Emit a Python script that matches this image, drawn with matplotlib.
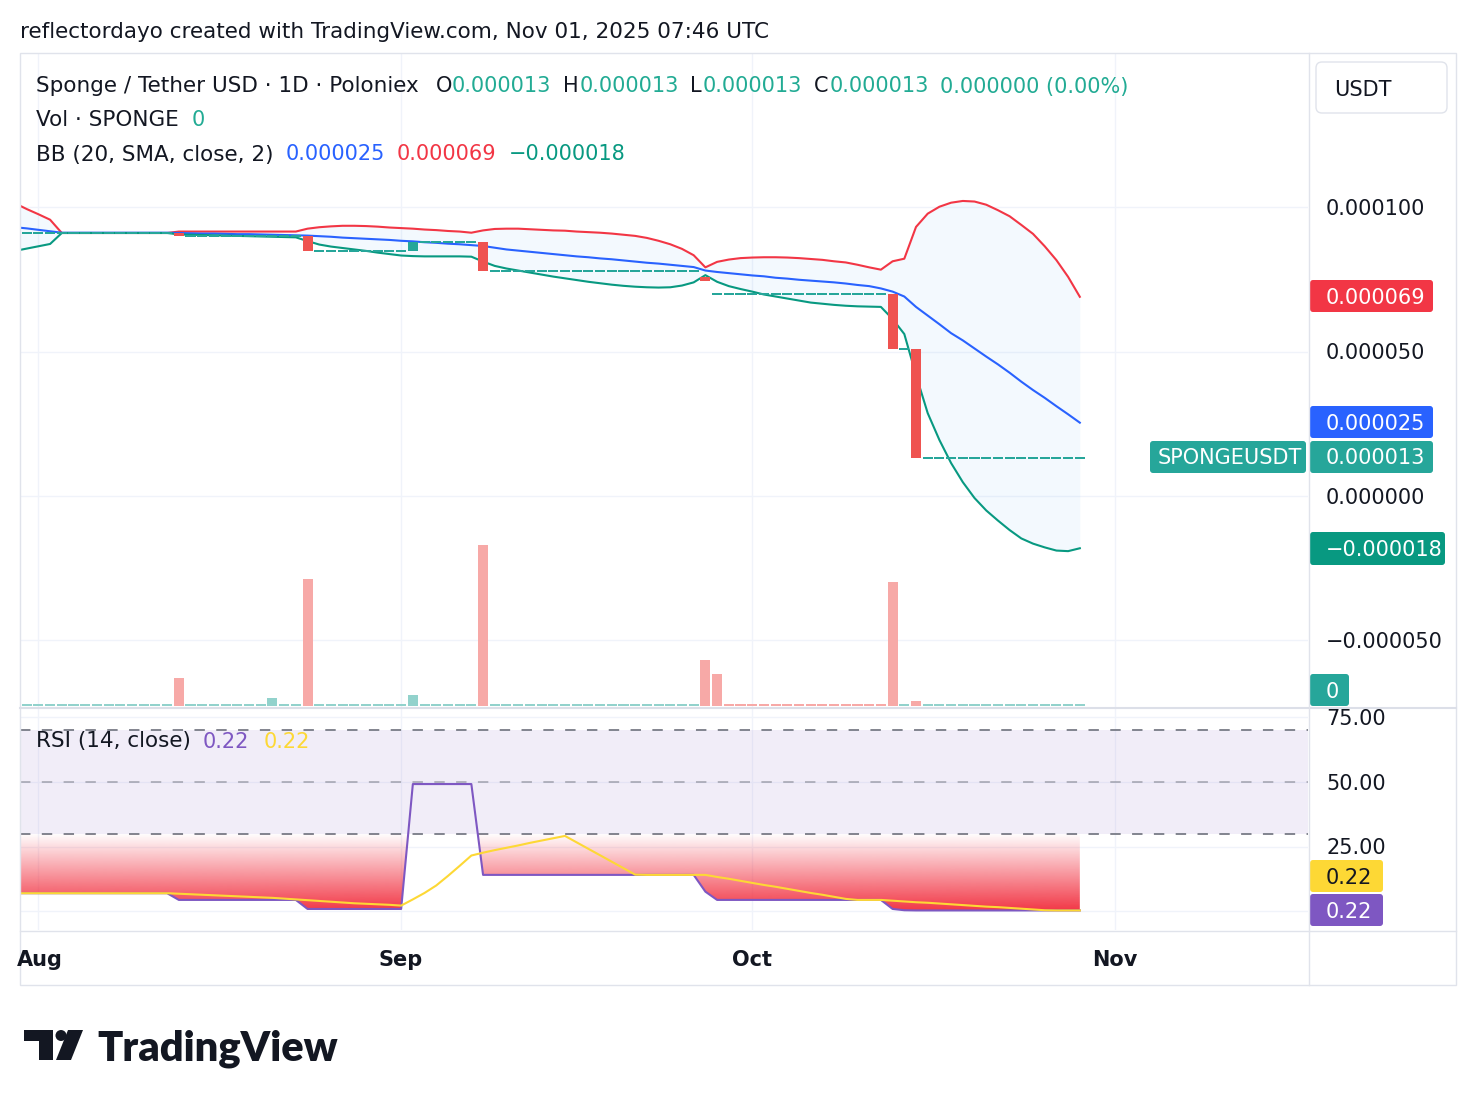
import numpy as np
import matplotlib.pyplot as plt
from matplotlib.patches import FancyBboxPatch, Polygon, Circle
from matplotlib.path import Path

plt.rcParams['font.family'] = ['DejaVu Sans']
plt.rcParams['lines.scale_dashes'] = False

W, H = 1476, 1106

# day index 0 = 31 Jul 2025, prices in millionths of USDT
days = np.arange(91)
opens = [91.1]*14 + [90.0]*11 + [84.7]*9 + [88.0]*6 + [78.0]*18 + [75.9] + [70.0]*16 + [50.9]*2 + [13.0]*14
closes = [91.1]*13 + [90.0]*11 + [84.7]*9 + [88.0]*6 + [78.0]*19 + [74.5] + [70.0]*15 + [50.9]*2 + [13.0]*15

# volume (relative), most days are tiny
vol_base = 2
vol_days = [13, 21, 24, 33, 39, 58, 59, 74, 76]
vol_sizes = [28, 8, 127, 11, 161, 46, 32, 124, 5]
vol_down = [13, 24, 39, 58, 59, 60, 61, 62, 63, 64, 65, 66, 67, 68, 69, 70, 71, 72, 73, 74, 76]

# bollinger bands, day -1 .. 90
band_days = np.arange(-1, 91)
bb_upper = ([101.4, 99.4, 97.6, 95.7] + [91.1]*10 + [91.6]*11 +
            [92.6, 93.1, 93.4, 93.6, 93.6, 93.5, 93.3, 93.0, 92.8, 92.6, 92.3, 92.1, 91.8, 91.6, 91.2] +
            [92.0, 92.5, 92.6, 92.6, 92.4, 92.2, 92.0, 91.9, 91.6, 91.4, 91.2, 90.9, 90.5, 90.1, 89.4, 88.4, 87.2, 85.6, 83.4] +
            [79.2, 81.1, 81.9, 82.4, 82.6, 82.7, 82.7, 82.6, 82.4, 82.1, 81.8, 81.3, 80.9, 80.1, 79.2, 78.4] +
            [81.3, 82.2, 93.2, 97.8, 100.2, 101.6, 102.2, 102.0, 100.9, 99.0, 96.9, 93.9, 90.8, 86.5, 81.7, 75.9, 69.0])
bb_basis = ([93.1, 92.7, 92.2, 91.7] + [91.2]*10 +
            [91.1, 91.0, 90.9, 90.9, 90.8, 90.7, 90.7, 90.6, 90.5, 90.4, 90.3] +
            [90.2, 90.0, 89.8, 89.5, 89.3, 89.1, 88.9, 88.7, 88.4, 88.2, 87.9, 87.7, 87.4, 87.2, 86.9] +
            [86.6, 86.0, 85.4, 85.0, 84.6, 84.2, 83.8, 83.4, 83.0, 82.7, 82.3, 82.0, 81.6, 81.2, 80.8, 80.5, 80.1, 79.7, 79.3] +
            [78.1, 77.6, 77.2, 76.8, 76.4, 76.1, 75.6, 75.3, 74.9, 74.6, 74.3, 74.0, 73.6, 73.1, 72.7, 71.9] +
            [70.8, 69.1, 65.5, 62.5, 59.5, 56.4, 53.9, 51.1, 48.3, 45.6, 42.7, 39.6, 36.7, 34.0, 31.1, 28.3, 25.4])
bb_lower = ([84.9, 85.7, 86.5, 87.3] + [91.1]*10 +
            [90.6, 90.5, 90.4, 90.3, 90.2, 90.1, 90.0, 89.9, 89.8, 89.7, 89.6] +
            [88.3, 87.1, 86.4, 85.9, 85.4, 84.9, 84.3, 83.8, 83.3, 83.1, 83.0, 83.0, 83.0, 83.0, 82.9] +
            [81.2, 79.7, 78.8, 78.1, 77.4, 76.7, 76.0, 75.4, 74.8, 74.2, 73.7, 73.2, 72.8, 72.5, 72.3, 72.2, 72.3, 72.9, 74.0] +
            [76.5, 74.2, 72.7, 71.7, 70.8, 69.8, 69.1, 68.4, 67.7, 67.0, 66.6, 66.2, 65.9, 65.7, 65.6, 65.5] +
            [61.3, 56.1, 41.9, 28.7, 19.4, 11.4, 4.8, -0.7, -5.0, -8.5, -11.8, -14.7, -16.5, -17.8, -18.9, -19.1, -18.1])

# RSI(14) and its moving average, day -1 .. 90
rsi = [6.9]*14 + [4.3]*11 + [0.8]*9 + [49.2]*6 + [14.0]*19 + [7.5] + [4.3]*15 + [0.8, 0.3] + [0.22]*15
rsi_ma = ([6.9]*14 + [6.7, 6.5, 6.3, 6.1, 5.9, 5.7, 5.5, 5.3, 5.1, 4.8, 4.5] +
          [4.2, 3.9, 3.6, 3.3, 3.0, 2.8, 2.6, 2.4, 2.1] + [4.5, 7.0, 9.9, 13.6, 17.5, 21.5] +
          [22.6, 23.6, 24.5, 25.4, 26.4, 27.3, 28.2, 29.1] + [26.6, 24.1, 21.6, 19.1, 16.6, 14.1] +
          [14.0]*6 + [13.2, 12.5, 11.7, 10.9, 10.1, 9.4, 8.6, 7.8, 7.0, 6.3, 5.5, 4.7, 4.3] + [4.3, 4.3] +
          [4.0, 3.7, 3.4, 3.2, 2.9, 2.6, 2.3, 2.0, 1.7, 1.5, 1.2, 0.9, 0.6, 0.3] + [0.22]*3)

month_days = [1, 32, 62, 93]
month_labels = ['Aug', 'Sep', 'Oct', 'Nov']
price_ticks = [100, 50, 0, -50]
price_labels = ['0.000100', '0.000050', '0.000000', '\u22120.000050']
rsi_ticks = [75, 50, 25, 0]

TEAL = '#26a69a'
RED = '#ef5350'
TXT = '#131722'
GRID = '#f0f3fa'
BORDER = '#e0e3eb'
FS = 15
FS_WORDS = 15.5


def rect(x0, y0, x1, y1):
    return [x0 / W, 1 - y1 / H, (x1 - x0) / W, (y1 - y0) / H]


fig = plt.figure(figsize=(W / 100, H / 100), dpi=100)
fig.patch.set_facecolor('white')

xlim = (-0.573, 109.5)

# ---- main pane
ax = fig.add_axes(rect(20, 53, 1308, 707.5))
ax.set_xlim(*xlim)
ax.set_ylim(-73.26, 153.45)
for t in price_ticks:
    ax.axhline(t, color=GRID, lw=1, zorder=0)
for d in month_days:
    ax.axvline(d, color=GRID, lw=1, zorder=0)
ax.fill_between(band_days, bb_upper, bb_lower, color='#2196f3', alpha=0.05, lw=0, zorder=1)
ax.plot(band_days, bb_upper, color='#f23645', lw=1.5, zorder=3)
ax.plot(band_days, bb_basis, color='#2962ff', lw=1.5, zorder=3)
ax.plot(band_days, bb_lower, color='#089981', lw=1.5, zorder=3)

o = np.array(opens)
c = np.array(closes)
body = np.abs(c - o)
flat = body < 0.01
bottoms = np.where(flat, o - 0.35, np.minimum(o, c))
heights = np.where(flat, 0.7, body)
ccol = [RED if c[i] < o[i] else TEAL for i in range(len(days))]
ax.bar(days, heights, bottom=bottoms, width=0.86, color=ccol, lw=0, zorder=4)
ax.axis('off')

# volume overlay
axv = ax.twinx()
vol = np.full(len(days), vol_base, dtype=float)
vol[vol_days] = vol_sizes
vcol = ['#f7a9a7' if i in vol_down else '#92d2cc' for i in days]
axv.bar(days, vol, width=0.86, color=vcol, lw=0, zorder=2)
axv.set_ylim(-1.8, 652.7)
axv.set_xlim(*xlim)
axv.axis('off')

# ---- RSI pane
ar = fig.add_axes(rect(20, 709, 1308, 930))
ar.set_xlim(*xlim)
ar.set_ylim(-7.36, 78.29)
for t in rsi_ticks:
    ar.axhline(t, color=GRID, lw=1, zorder=0)
for d in month_days:
    ar.axvline(d, color=GRID, lw=1, zorder=0)
ar.axhspan(30, 70, color='#7e57c2', alpha=0.1, lw=0, zorder=1)
ar.axhline(70, color='#787b86', lw=1.3, ls=(0, (7.5, 8.2)), zorder=2)
ar.axhline(50, color='#787b86', alpha=0.55, lw=1.3, ls=(0, (7.5, 8.2)), zorder=2)
ar.axhline(30, color='#787b86', lw=1.3, ls=(0, (7.5, 8.2)), zorder=2)

r = np.array(rsi)
fb = ar.fill_between(band_days, r, 30, where=r <= 30, interpolate=True, facecolor='none', lw=0)
clip = Path.make_compound_path(*fb.get_paths())
a = np.linspace(1.0, 0.0, 256)
grad = np.zeros((256, 1, 4))
grad[:, 0, 0] = 242 / 255
grad[:, 0, 1] = 54 / 255
grad[:, 0, 2] = 69 / 255
grad[:, 0, 3] = a
img = ar.imshow(grad, extent=[band_days[0], band_days[-1], 0, 30], origin='lower',
                aspect='auto', zorder=2, interpolation='bilinear')
img.set_clip_path(clip, transform=ar.transData)
ar.plot(band_days, rsi, color='#7e57c2', lw=1.5, zorder=4)
ar.plot(band_days, rsi_ma, color='#fdd835', lw=1.5, zorder=5)
ar.set_xlim(*xlim)
ar.set_ylim(-7.36, 78.29)
ar.axis('off')

# ---- overlay in pixel coordinates
fg = fig.add_axes([0, 0, 1, 1], zorder=10)
fg.set_xlim(0, W)
fg.set_ylim(H, 0)
fg.axis('off')

fg.add_patch(plt.Rectangle((20, 53), 1436, 932, fill=False, ec=BORDER, lw=1))
fg.plot([20, 1456], [708, 708], color='#dcdfe8', lw=1.5)
fg.plot([20, 1456], [930.5, 930.5], color=BORDER, lw=1)
fg.plot([1308.5, 1308.5], [53, 985], color=BORDER, lw=1)


def label(x, y, s, color=TXT, size=FS, **kw):
    fg.text(x, y + 1.5, s, color=color, fontsize=size, va='center', ha='left', **kw)


def badge(x0, y0, x1, y1, s, bg, fgc='white', tx=None):
    fg.add_patch(FancyBboxPatch((x0, y0), x1 - x0, y1 - y0,
                                boxstyle='round,pad=0,rounding_size=3', fc=bg, ec='none'))
    label(x0 + 16 if tx is None else tx, (y0 + y1) / 2, s, color=fgc)


label(20, 31, 'reflectordayo created with TradingView.com, Nov 01, 2025 07:46 UTC', size=FS_WORDS)

val = '#22ab94'
label(36, 85, 'Sponge / Tether USD \u00b7 1D \u00b7 Poloniex', size=FS_WORDS)
for lx, vx, k in [(436, 452, 'O'), (563, 580, 'H'), (690, 703, 'L'), (814, 830, 'C')]:
    label(lx, 85, k)
    label(vx, 85, '0.000013', color=val)
label(940, 85, '0.000000 (0.00%)', color=val)
label(36, 119, 'Vol \u00b7 SPONGE', size=FS_WORDS)
label(192, 119, '0', color=val)
label(36, 153, 'BB (20, SMA, close, 2)', size=FS_WORDS)
label(286, 153, '0.000025', color='#2962ff')
label(397, 153, '0.000069', color='#f23645')
label(509, 153, '\u22120.000018', color='#089981')
label(36, 740, 'RSI (14, close)', size=FS_WORDS)
label(203, 740, '0.22', color='#7e57c2')
label(264, 740, '0.22', color='#fdd835')

# price axis
for t, s in zip(price_ticks, price_labels):
    label(1326, 496 - t * 2.887, s)
for t in [75, 50, 25]:
    label(1326, 782 - (t - 50) * 2.58, '%.2f' % t)

fg.add_patch(FancyBboxPatch((1316, 62), 131, 51, boxstyle='round,pad=0,rounding_size=6',
                            fc='white', ec=BORDER, lw=1))
label(1334, 88, 'USDT')

badge(1310, 280, 1433, 312, '0.000069', '#f23645')
badge(1310, 406, 1433, 438, '0.000025', '#2962ff')
badge(1150, 441, 1306, 473, 'SPONGEUSDT', TEAL, tx=1158)
badge(1310, 441, 1433, 473, '0.000013', TEAL)
badge(1310, 532, 1445, 565, '\u22120.000018', '#089981')
badge(1310, 674, 1349, 706, '0', TEAL)
badge(1310, 860, 1383, 892, '0.22', '#fdd835', fgc=TXT)
badge(1310, 894, 1383, 926, '0.22', '#7e57c2')

# time axis
for d, s in zip(month_days, month_labels):
    px = 26.7 + 11.7 * d
    fg.text(max(px, 40), 960, s, color=TXT, fontsize=FS, fontweight='bold', ha='center', va='center')

# logo
fg.add_patch(Polygon([(24, 1030), (53, 1030), (53, 1060), (39, 1060), (39, 1041), (24, 1041)],
                     closed=True, fc='#131722', ec='none'))
fg.add_patch(Circle((61, 1035.5), 5.5, fc='#131722', ec='none'))
fg.add_patch(Polygon([(68, 1030), (83, 1030), (71, 1060), (56, 1060)], closed=True, fc='#131722', ec='none'))
fg.text(97, 1060, 'TradingView', color='#131722', fontsize=30, fontweight='heavy',
        family=['Lato', 'DejaVu Sans'], ha='left', va='baseline')

fig.savefig('out.png', dpi=100, facecolor='white')
